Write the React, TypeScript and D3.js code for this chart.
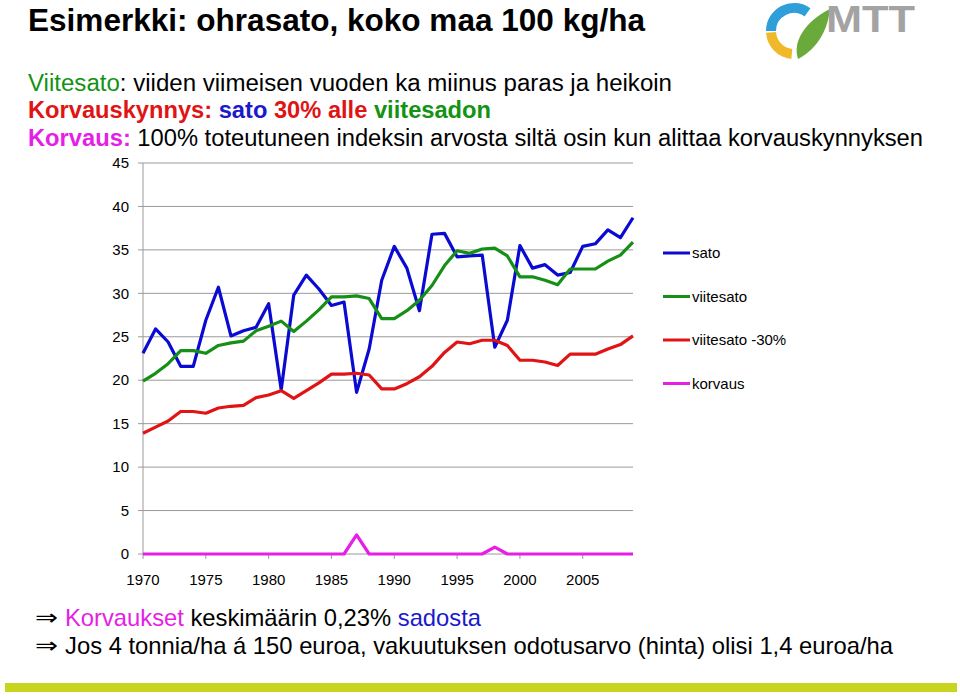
import * as d3 from "d3";

// vuodet 1970-2009
const years = d3.range(1970, 2010);

const sato = [
  23.1, 25.9, 24.4, 21.6, 21.6, 26.9, 30.7, 25.1, 25.7, 26.1,
  28.8, 18.9, 29.8, 32.1, 30.5, 28.6, 29.0, 18.6, 23.6, 31.5,
  35.4, 32.9, 28.0, 36.8, 36.9, 34.2, 34.3, 34.4, 23.8, 26.9,
  35.5, 32.9, 33.3, 32.1, 32.4, 35.4, 35.7, 37.3, 36.4, 38.7,
];
const viitesato = [
  19.9, 20.8, 21.9, 23.4, 23.4, 23.1, 24.0, 24.3, 24.5, 25.7,
  26.2, 26.8, 25.6, 26.8, 28.1, 29.6, 29.6, 29.7, 29.4, 27.1,
  27.1, 28.0, 29.2, 30.9, 33.2, 34.9, 34.6, 35.1, 35.2, 34.3,
  31.9, 31.9, 31.5, 31.0, 32.8, 32.8, 32.8, 33.7, 34.4, 35.9,
];
const viitesato30 = [
  13.9, 14.6, 15.3, 16.4, 16.4, 16.2, 16.8, 17.0, 17.1, 18.0,
  18.3, 18.8, 17.9, 18.8, 19.7, 20.7, 20.7, 20.8, 20.6, 19.0,
  19.0, 19.6, 20.4, 21.6, 23.2, 24.4, 24.2, 24.6, 24.6, 24.0,
  22.3, 22.3, 22.1, 21.7, 23.0, 23.0, 23.0, 23.6, 24.1, 25.1,
];
const korvaus = [
  0, 0, 0, 0, 0, 0, 0, 0, 0, 0,
  0, 0, 0, 0, 0, 0, 0, 2.2, 0, 0,
  0, 0, 0, 0, 0, 0, 0, 0, 0.8, 0,
  0, 0, 0, 0, 0, 0, 0, 0, 0, 0,
];

const yTicks = [0, 5, 10, 15, 20, 25, 30, 35, 40, 45];
const xTickYears = [1970, 1975, 1980, 1985, 1990, 1995, 2000, 2005];

const seriesNames = ["sato", "viitesato", "viitesato -30%", "korvaus"];
const seriesColors = ["#0a0ad2", "#168f16", "#e01414", "#e61ee6"];
const seriesData = [sato, viitesato, viitesato30, korvaus];

const font = "'Liberation Sans', Arial, Helvetica, sans-serif";

export default function App() {
  const x = d3.scaleLinear().domain([1970, 2009]).range([143, 633]);
  const y = d3.scaleLinear().domain([0, 45]).range([554, 163]);

  const line = d3
    .line<number>()
    .x((_, i) => x(years[i]))
    .y((d) => y(d));

  const arc = d3.arc();
  const logoCx = 794;
  const logoCy = 31;

  return (
    <svg
      width={960}
      height={696}
      style={{ position: "absolute", left: 0, top: 0, background: "#fff" }}
      fontFamily={font}
    >
      {/* otsikko */}
      <text x={28} y={31} fontSize={32} fontWeight="bold" textLength={617} lengthAdjust="spacingAndGlyphs">
        Esimerkki: ohrasato, koko maa 100 kg/ha
      </text>

      {/* logo */}
      <g transform={`translate(${logoCx},${logoCy})`}>
        <path
          d={arc({ innerRadius: 18, outerRadius: 28, startAngle: -Math.PI / 2, endAngle: Math.PI / 5 }) || ""}
          fill="#2e9fd8"
        />
        <path
          d={arc({ innerRadius: 18, outerRadius: 28, startAngle: -Math.PI * 0.97, endAngle: -Math.PI / 2 - 0.06 }) || ""}
          fill="#f0b92a"
        />
        <path d="M4,28 C-2,10 12,-10 36,-22 C34,-4 26,16 4,28 Z" fill="#6aaa3a" />
      </g>
      <text x={826} y={32} fontSize={36} fontWeight="bold" fill="#a3a3a3" textLength={89} lengthAdjust="spacingAndGlyphs">
        MTT
      </text>

      {/* selitteet */}
      <g fontSize={23}>
        <text x={28} y={91} textLength={644} lengthAdjust="spacingAndGlyphs">
          <tspan fill="#139313">Viitesato</tspan>
          <tspan fill="#000">: viiden viimeisen vuoden ka miinus paras ja heikoin</tspan>
        </text>
        <text x={28} y={118} fontWeight="bold" textLength={463} lengthAdjust="spacingAndGlyphs">
          <tspan fill="#e01414">Korvauskynnys: </tspan>
          <tspan fill="#1a1acc">sato </tspan>
          <tspan fill="#e01414">30% alle </tspan>
          <tspan fill="#139313">viitesadon</tspan>
        </text>
        <text x={28} y={146} textLength={895} lengthAdjust="spacingAndGlyphs">
          <tspan fill="#e61ee6" fontWeight="bold">Korvaus: </tspan>
          <tspan fill="#000">100% toteutuneen indeksin arvosta siltä osin kun alittaa korvauskynnyksen</tspan>
        </text>
      </g>

      {/* ruudukko */}
      {yTicks.map((t) => (
        <g key={t}>
          <line x1={138} x2={633} y1={y(t)} y2={y(t)} stroke="#9a9a9a" strokeWidth={1} />
          <text x={129} y={y(t)} dy="0.35em" textAnchor="end" fontSize={15}>
            {t}
          </text>
        </g>
      ))}
      <line x1={143} x2={143} y1={y(45)} y2={y(0)} stroke="#9a9a9a" strokeWidth={1} />
      {xTickYears.map((yr) => (
        <g key={yr}>
          <line x1={x(yr)} x2={x(yr)} y1={y(0)} y2={y(0) + 5} stroke="#9a9a9a" />
          <text x={x(yr)} y={585} textAnchor="middle" fontSize={15}>
            {yr}
          </text>
        </g>
      ))}

      {/* sarjat */}
      {seriesData.map((d, i) => (
        <path
          key={seriesNames[i]}
          d={line(d) || ""}
          fill="none"
          stroke={seriesColors[i]}
          strokeWidth={3.2}
          strokeLinejoin="round"
        />
      ))}

      {/* legenda */}
      {seriesNames.map((name, i) => {
        const ly = 253 + i * 43.5;
        return (
          <g key={name}>
            <line x1={663} x2={690} y1={ly} y2={ly} stroke={seriesColors[i]} strokeWidth={3} />
            <text x={692} y={ly} dy="0.35em" fontSize={15}>
              {name}
            </text>
          </g>
        );
      })}

      {/* johtopäätökset */}
      <g fontSize={24}>
        <text x={35} y={625} fontFamily="'DejaVu Sans', sans-serif" fontSize={22} textLength={23} lengthAdjust="spacingAndGlyphs">
          ⇒
        </text>
        <text x={65} y={626} textLength={416} lengthAdjust="spacingAndGlyphs">
          <tspan fill="#e61ee6">Korvaukset</tspan>
          <tspan fill="#000"> keskimäärin 0,23% </tspan>
          <tspan fill="#1a1acc">sadosta</tspan>
        </text>
        <text x={35} y={653} fontFamily="'DejaVu Sans', sans-serif" fontSize={22} textLength={23} lengthAdjust="spacingAndGlyphs">
          ⇒
        </text>
        <text x={65} y={654} textLength={828} lengthAdjust="spacingAndGlyphs">
          Jos 4 tonnia/ha á 150 euroa, vakuutuksen odotusarvo (hinta) olisi 1,4 euroa/ha
        </text>
      </g>

      <rect x={5} y={683} width={952} height={9} fill="#c9d41f" />
    </svg>
  );
}
